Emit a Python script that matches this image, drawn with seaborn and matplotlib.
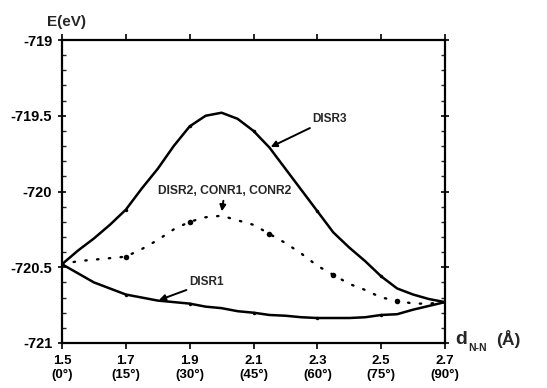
import numpy as np
import pandas as pd
import matplotlib
matplotlib.use("Agg")
import matplotlib.pyplot as plt
import seaborn as sns
from matplotlib.ticker import MultipleLocator

# ---- data ----
d_nn = [1.50, 1.55, 1.60, 1.65, 1.70, 1.75, 1.80, 1.85, 1.90, 1.95, 2.00, 2.05, 2.10,
        2.15, 2.20, 2.25, 2.30, 2.35, 2.40, 2.45, 2.50, 2.55, 2.60, 2.65, 2.70]
disr3 = [-720.48, -720.39, -720.31, -720.22, -720.12, -719.98, -719.85, -719.70, -719.57,
         -719.50, -719.48, -719.52, -719.60, -719.71, -719.85, -719.99, -720.13, -720.27,
         -720.37, -720.46, -720.56, -720.64, -720.68, -720.71, -720.73]
disr2_conr = [-720.48, -720.46, -720.45, -720.44, -720.43, -720.38, -720.32, -720.25, -720.20,
              -720.17, -720.16, -720.19, -720.22, -720.28, -720.34, -720.41, -720.49, -720.55,
              -720.61, -720.65, -720.70, -720.72, -720.74, -720.74, -720.73]
disr1 = [-720.48, -720.54, -720.60, -720.64, -720.68, -720.70, -720.72, -720.73, -720.74,
         -720.76, -720.77, -720.79, -720.80, -720.815, -720.82, -720.83, -720.835, -720.835,
         -720.835, -720.83, -720.815, -720.81, -720.78, -720.755, -720.73]
x_ticks = [1.5, 1.7, 1.9, 2.1, 2.3, 2.5, 2.7]
x_ticklabels = ["1.5\n(0°)", "1.7\n(15°)", "1.9\n(30°)", "2.1\n(45°)",
                "2.3\n(60°)", "2.5\n(75°)", "2.7\n(90°)"]
y_ticks = [-721, -720.5, -720, -719.5, -719]
y_ticklabels = ["-721", "-720.5", "-720", "-719.5", "-719"]

df = pd.DataFrame({"d": d_nn, "DISR3": disr3, "DISR2": disr2_conr, "DISR1": disr1})

sns.set_theme(style="white")
plt.rcParams["font.family"] = ["Liberation Sans", "DejaVu Sans"]
plt.rcParams["font.weight"] = "bold"

fig = plt.figure(figsize=(5.47, 3.88), dpi=100)
ax = fig.add_axes([62 / 547, 1 - 343 / 388, (445 - 62) / 547, (343 - 40) / 388])

sns.lineplot(data=df, x="d", y="DISR3", ax=ax, color="black", linewidth=1.8,
             marker="o", markersize=2.5, markevery=[4, 8, 12, 16, 20], markeredgewidth=0)
sns.lineplot(data=df, x="d", y="DISR1", ax=ax, color="black", linewidth=1.8,
             marker="o", markersize=2.5, markevery=[4, 8, 12, 16, 20], markeredgewidth=0)
sns.lineplot(data=df, x="d", y="DISR2", ax=ax, color="black", linewidth=1.7,
             marker="o", markersize=4, markevery=[4, 8, 13, 17, 21],
             markeredgewidth=0)
l2 = ax.get_lines()[-1]
l2.set_linestyle((0, (0.6, 4.4)))
l2.set_dash_capstyle("round")
for ln in ax.get_lines():
    ln.set_solid_joinstyle("round")

ax.set_xlim(1.5, 2.7)
ax.set_ylim(-721, -719)
ax.set_xticks(x_ticks)
ax.set_xticklabels(x_ticklabels, fontsize=9.5, fontweight="bold", linespacing=1.15)
ax.set_yticks(y_ticks)
ax.set_yticklabels(y_ticklabels, fontsize=10.5, fontweight="bold")
ax.yaxis.set_minor_locator(MultipleLocator(0.1))
ax.set_xlabel("")
ax.set_ylabel("")

for s in ax.spines.values():
    s.set_visible(True)
    s.set_color("black")
    s.set_linewidth(1.6)

ax.tick_params(axis="y", which="major", direction="inout", length=6, width=1.2,
               left=True, right=True, pad=4, colors="black")
ax.tick_params(axis="y", which="minor", direction="in", length=3, width=1.0,
               left=True, right=True)
ax.tick_params(axis="x", which="major", direction="out", length=4, width=1.2,
               bottom=True, top=True, pad=5, colors="black")

# annotations
arrow = dict(arrowstyle="-|>", color="black", lw=1.4, mutation_scale=9, shrinkA=0, shrinkB=1)
ax.annotate("DISR3", xy=(d_nn[13], disr3[13]), xytext=(2.283, -719.52),
            fontsize=8.5, fontweight="bold", ha="left", va="center", arrowprops=arrow)
ax.annotate("DISR2, CONR1, CONR2", xy=(d_nn[10], disr2_conr[10] + 0.02), xytext=(2.01, -720.0),
            fontsize=8.7, fontweight="bold", ha="center", va="center", arrowprops=arrow)
ax.annotate("DISR1", xy=(d_nn[6], disr1[6]), xytext=(1.90, -720.60),
            fontsize=8.5, fontweight="bold", ha="left", va="center", arrowprops=arrow)

fig.text(47 / 547, 1 - 22 / 388, "E(eV)", fontsize=11, fontweight="bold", ha="left", va="center")
fig.text(455 / 547, 1 - 340 / 388, "d", fontsize=14, fontweight="bold", ha="left", va="center")
fig.text(468 / 547, 1 - 348 / 388, "N-N", fontsize=7.5, fontweight="bold", ha="left", va="center")
fig.text(496 / 547, 1 - 339 / 388, "(Å)", fontsize=12.5, fontweight="bold", ha="left", va="center")

fig.savefig("out.png", dpi=100)
